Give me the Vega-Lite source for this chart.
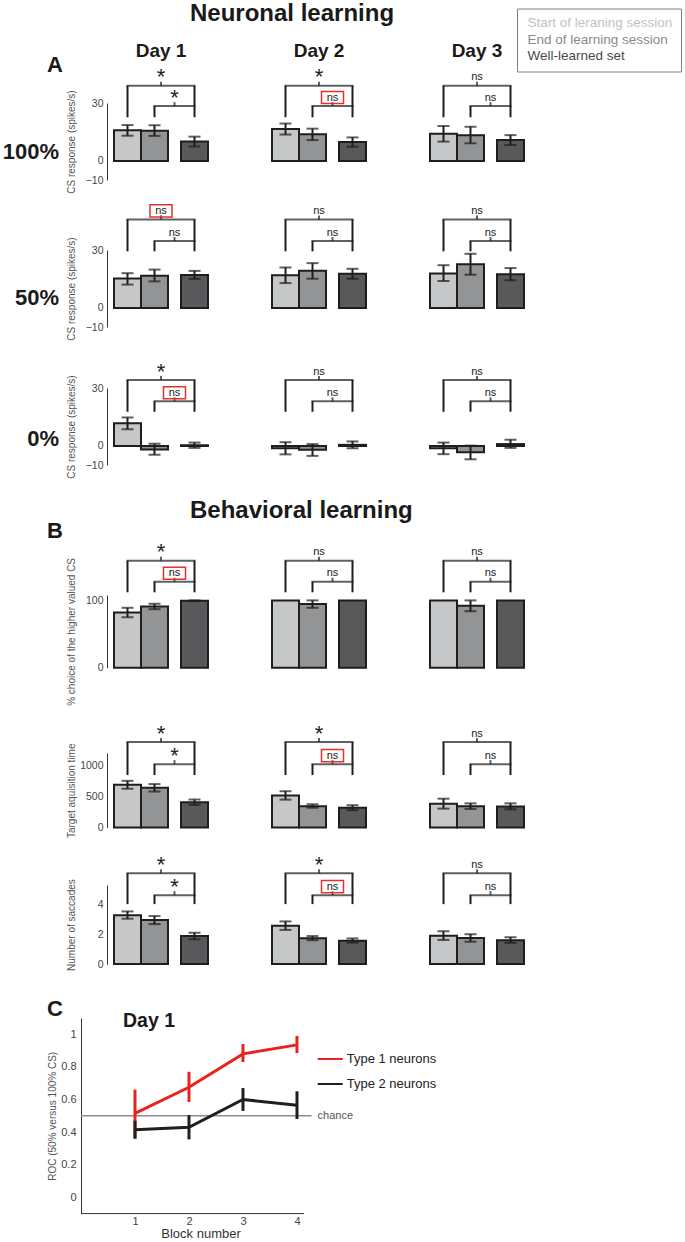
{
  "$schema": "https://vega.github.io/schema/vega-lite/v6.json",
  "autosize": {"type": "none"},
  "padding": {"left": 107, "top": 101, "right": 578, "bottom": 1141},
  "background": "white",
  "spacing": 0,
  "bounds": "flush",
  "resolve": {"scale": {"color": "independent"}, "legend": {"color": "independent"}},
  "datasets": {
    "bars": [
      {"panel":"100%","day":"Day 1","cond":"Start of leraning session","mean":16.2,"lo":13.3,"hi":18.9},
      {"panel":"100%","day":"Day 1","cond":"End of learning session","mean":15.9,"lo":13.2,"hi":18.8},
      {"panel":"100%","day":"Day 1","cond":"Well-learned set","mean":10.3,"lo":7.6,"hi":12.8},
      {"panel":"100%","day":"Day 2","cond":"Start of leraning session","mean":16.8,"lo":13.9,"hi":19.7},
      {"panel":"100%","day":"Day 2","cond":"End of learning session","mean":14.0,"lo":11.0,"hi":17.0},
      {"panel":"100%","day":"Day 2","cond":"Well-learned set","mean":10.0,"lo":7.5,"hi":12.4},
      {"panel":"100%","day":"Day 3","cond":"Start of leraning session","mean":14.3,"lo":10.2,"hi":18.4},
      {"panel":"100%","day":"Day 3","cond":"End of learning session","mean":13.6,"lo":9.3,"hi":18.0},
      {"panel":"100%","day":"Day 3","cond":"Well-learned set","mean":11.0,"lo":8.4,"hi":13.6},
      {"panel":"50%","day":"Day 1","cond":"Start of leraning session","mean":15.5,"lo":12.3,"hi":18.3},
      {"panel":"50%","day":"Day 1","cond":"End of learning session","mean":17.0,"lo":14.0,"hi":20.2},
      {"panel":"50%","day":"Day 1","cond":"Well-learned set","mean":17.3,"lo":15.3,"hi":19.5},
      {"panel":"50%","day":"Day 2","cond":"Start of leraning session","mean":17.2,"lo":13.1,"hi":21.3},
      {"panel":"50%","day":"Day 2","cond":"End of learning session","mean":19.6,"lo":15.4,"hi":23.6},
      {"panel":"50%","day":"Day 2","cond":"Well-learned set","mean":18.0,"lo":15.4,"hi":20.6},
      {"panel":"50%","day":"Day 3","cond":"Start of leraning session","mean":18.2,"lo":14.2,"hi":22.5},
      {"panel":"50%","day":"Day 3","cond":"End of learning session","mean":23.0,"lo":17.5,"hi":28.5},
      {"panel":"50%","day":"Day 3","cond":"Well-learned set","mean":17.8,"lo":14.6,"hi":21.0},
      {"panel":"0%","day":"Day 1","cond":"Start of leraning session","mean":12.0,"lo":8.8,"hi":15.0},
      {"panel":"0%","day":"Day 1","cond":"End of learning session","mean":-1.8,"lo":-4.6,"hi":1.2},
      {"panel":"0%","day":"Day 1","cond":"Well-learned set","mean":0.4,"lo":-1.0,"hi":1.8},
      {"panel":"0%","day":"Day 2","cond":"Start of leraning session","mean":-1.2,"lo":-4.4,"hi":2.0},
      {"panel":"0%","day":"Day 2","cond":"End of learning session","mean":-2.0,"lo":-5.2,"hi":1.0},
      {"panel":"0%","day":"Day 2","cond":"Well-learned set","mean":0.6,"lo":-1.2,"hi":2.4},
      {"panel":"0%","day":"Day 3","cond":"Start of leraning session","mean":-1.2,"lo":-4.3,"hi":1.8},
      {"panel":"0%","day":"Day 3","cond":"End of learning session","mean":-3.3,"lo":-7.0,"hi":0.2},
      {"panel":"0%","day":"Day 3","cond":"Well-learned set","mean":1.0,"lo":-1.0,"hi":3.3},
      {"panel":"choice","day":"Day 1","cond":"Start of leraning session","mean":82,"lo":75,"hi":89},
      {"panel":"choice","day":"Day 1","cond":"End of learning session","mean":91,"lo":87,"hi":95},
      {"panel":"choice","day":"Day 1","cond":"Well-learned set","mean":99.5,"lo":99,"hi":100},
      {"panel":"choice","day":"Day 2","cond":"Start of leraning session","mean":100,"lo":null,"hi":null},
      {"panel":"choice","day":"Day 2","cond":"End of learning session","mean":94.5,"lo":89,"hi":100},
      {"panel":"choice","day":"Day 2","cond":"Well-learned set","mean":100,"lo":null,"hi":null},
      {"panel":"choice","day":"Day 3","cond":"Start of leraning session","mean":100,"lo":null,"hi":null},
      {"panel":"choice","day":"Day 3","cond":"End of learning session","mean":92,"lo":84,"hi":100},
      {"panel":"choice","day":"Day 3","cond":"Well-learned set","mean":100,"lo":null,"hi":null},
      {"panel":"time","day":"Day 1","cond":"Start of leraning session","mean":690,"lo":625,"hi":752},
      {"panel":"time","day":"Day 1","cond":"End of learning session","mean":640,"lo":580,"hi":700},
      {"panel":"time","day":"Day 1","cond":"Well-learned set","mean":408,"lo":365,"hi":452},
      {"panel":"time","day":"Day 2","cond":"Start of leraning session","mean":515,"lo":450,"hi":585},
      {"panel":"time","day":"Day 2","cond":"End of learning session","mean":345,"lo":320,"hi":375},
      {"panel":"time","day":"Day 2","cond":"Well-learned set","mean":320,"lo":280,"hi":360},
      {"panel":"time","day":"Day 3","cond":"Start of leraning session","mean":385,"lo":305,"hi":465},
      {"panel":"time","day":"Day 3","cond":"End of learning session","mean":345,"lo":300,"hi":390},
      {"panel":"time","day":"Day 3","cond":"Well-learned set","mean":340,"lo":295,"hi":390},
      {"panel":"saccades","day":"Day 1","cond":"Start of leraning session","mean":3.27,"lo":3.04,"hi":3.53},
      {"panel":"saccades","day":"Day 1","cond":"End of learning session","mean":2.95,"lo":2.68,"hi":3.22},
      {"panel":"saccades","day":"Day 1","cond":"Well-learned set","mean":1.88,"lo":1.66,"hi":2.1},
      {"panel":"saccades","day":"Day 2","cond":"Start of leraning session","mean":2.57,"lo":2.29,"hi":2.86},
      {"panel":"saccades","day":"Day 2","cond":"End of learning session","mean":1.73,"lo":1.6,"hi":1.88},
      {"panel":"saccades","day":"Day 2","cond":"Well-learned set","mean":1.57,"lo":1.44,"hi":1.72},
      {"panel":"saccades","day":"Day 3","cond":"Start of leraning session","mean":1.9,"lo":1.62,"hi":2.2},
      {"panel":"saccades","day":"Day 3","cond":"End of learning session","mean":1.75,"lo":1.5,"hi":2.0},
      {"panel":"saccades","day":"Day 3","cond":"Well-learned set","mean":1.6,"lo":1.42,"hi":1.8}
    ],
    "cmps": [
      {"panel":"100%","day":"Day 1","pair":"Start vs Well","label":"*","boxed":false},
      {"panel":"100%","day":"Day 1","pair":"End vs Well","label":"*","boxed":false},
      {"panel":"100%","day":"Day 2","pair":"Start vs Well","label":"*","boxed":false},
      {"panel":"100%","day":"Day 2","pair":"End vs Well","label":"ns","boxed":true},
      {"panel":"100%","day":"Day 3","pair":"Start vs Well","label":"ns","boxed":false},
      {"panel":"100%","day":"Day 3","pair":"End vs Well","label":"ns","boxed":false},
      {"panel":"50%","day":"Day 1","pair":"Start vs Well","label":"ns","boxed":true},
      {"panel":"50%","day":"Day 1","pair":"End vs Well","label":"ns","boxed":false},
      {"panel":"50%","day":"Day 2","pair":"Start vs Well","label":"ns","boxed":false},
      {"panel":"50%","day":"Day 2","pair":"End vs Well","label":"ns","boxed":false},
      {"panel":"50%","day":"Day 3","pair":"Start vs Well","label":"ns","boxed":false},
      {"panel":"50%","day":"Day 3","pair":"End vs Well","label":"ns","boxed":false},
      {"panel":"0%","day":"Day 1","pair":"Start vs Well","label":"*","boxed":false},
      {"panel":"0%","day":"Day 1","pair":"End vs Well","label":"ns","boxed":true},
      {"panel":"0%","day":"Day 2","pair":"Start vs Well","label":"ns","boxed":false},
      {"panel":"0%","day":"Day 2","pair":"End vs Well","label":"ns","boxed":false},
      {"panel":"0%","day":"Day 3","pair":"Start vs Well","label":"ns","boxed":false},
      {"panel":"0%","day":"Day 3","pair":"End vs Well","label":"ns","boxed":false},
      {"panel":"choice","day":"Day 1","pair":"Start vs Well","label":"*","boxed":false},
      {"panel":"choice","day":"Day 1","pair":"End vs Well","label":"ns","boxed":true},
      {"panel":"choice","day":"Day 2","pair":"Start vs Well","label":"ns","boxed":false},
      {"panel":"choice","day":"Day 2","pair":"End vs Well","label":"ns","boxed":false},
      {"panel":"choice","day":"Day 3","pair":"Start vs Well","label":"ns","boxed":false},
      {"panel":"choice","day":"Day 3","pair":"End vs Well","label":"ns","boxed":false},
      {"panel":"time","day":"Day 1","pair":"Start vs Well","label":"*","boxed":false},
      {"panel":"time","day":"Day 1","pair":"End vs Well","label":"*","boxed":false},
      {"panel":"time","day":"Day 2","pair":"Start vs Well","label":"*","boxed":false},
      {"panel":"time","day":"Day 2","pair":"End vs Well","label":"ns","boxed":true},
      {"panel":"time","day":"Day 3","pair":"Start vs Well","label":"ns","boxed":false},
      {"panel":"time","day":"Day 3","pair":"End vs Well","label":"ns","boxed":false},
      {"panel":"saccades","day":"Day 1","pair":"Start vs Well","label":"*","boxed":false},
      {"panel":"saccades","day":"Day 1","pair":"End vs Well","label":"*","boxed":false},
      {"panel":"saccades","day":"Day 2","pair":"Start vs Well","label":"*","boxed":false},
      {"panel":"saccades","day":"Day 2","pair":"End vs Well","label":"ns","boxed":true},
      {"panel":"saccades","day":"Day 3","pair":"Start vs Well","label":"ns","boxed":false},
      {"panel":"saccades","day":"Day 3","pair":"End vs Well","label":"ns","boxed":false}
    ],
    "roc": [
      {"type":"Type 1 neurons","block":1,"roc":0.515,"lo":0.36,"hi":0.66},
      {"type":"Type 1 neurons","block":2,"roc":0.675,"lo":0.585,"hi":0.77},
      {"type":"Type 1 neurons","block":3,"roc":0.88,"lo":0.83,"hi":0.94},
      {"type":"Type 1 neurons","block":4,"roc":0.935,"lo":0.885,"hi":0.99},
      {"type":"Type 2 neurons","block":1,"roc":0.415,"lo":0.36,"hi":0.47},
      {"type":"Type 2 neurons","block":2,"roc":0.43,"lo":0.355,"hi":0.505},
      {"type":"Type 2 neurons","block":3,"roc":0.6,"lo":0.53,"hi":0.67},
      {"type":"Type 2 neurons","block":4,"roc":0.565,"lo":0.48,"hi":0.65}
    ],
    "ref": [{"label":"chance","roc":0.5}]
  },
  "vconcat": [
    {"width":424,"height":1,"data":{"values":[]},"mark":"point",
     "title":{"text":"Neuronal learning","anchor":"start","frame":"group","dx":83,"offset":56,"baseline":"alphabetic","fontSize":24}},
    {"width":424,"height":1,"data":{"values":[]},"mark":"point",
     "title":{"text":"A","orient":"left","angle":0,"align":"left","baseline":"middle","anchor":"middle","frame":"group","offset":44,"dy":-38,"fontSize":22}},
    {"width":424,"height":77,
     "title":{"text":"100%","orient":"left","angle":0,"align":"left","baseline":"middle","anchor":"middle","frame":"group","offset":7,"dy":10,"fontSize":22},
     "encoding":{"x":{"field":"day","type":"nominal","scale":{"domain":["Day 1","Day 2","Day 3"],"paddingInner":0.405,"paddingOuter":0.0443},"axis":{"orient":"top","domain":false,"ticks":false,"tickSize":0,"labelAngle":0,"labelFontSize":19,"labelFontWeight":"bold","labelColor":"#1a1a1a","labelPadding":47,"labelBaseline":"alphabetic","title":null}}},
     "layer":[
      {"data":{"name":"bars"},"transform":[{"filter":"datum.panel=='100%' && datum.cond=='Start of leraning session'"}],"mark":{"type":"bar","width":27,"xOffset":-33.5},
       "encoding":{"y":{"field":"mean","type":"quantitative","scale":{"domain":[-10,30.5],"nice":false,"zero":false},"axis":{"values":[-10,0,30],"tickCount":20,"labelOverlap":false,"title":"CS response (spikes/s)","titleX":-36,"titleBaseline":"middle"}},
        "y2":{"datum":0},
        "color":{"field":"cond","type":"nominal","scale":{"domain":["Start of leraning session","End of learning session","Well-learned set"],"range":["#c6c7c9","#939496","#58595b"]},
         "legend":{"orient":"none","legendX":410,"legendY":-94.5,"title":null,"padding":8,"strokeColor":"#808080","fillColor":"#ffffff","symbolSize":1,"symbolOpacity":0,"symbolStrokeWidth":0,"labelOffset":-11,"labelFontSize":13.5,"labelLimit":300,"rowPadding":1.5,
          "labelColor":{"expr":"datum.value == 'Start of leraning session' ? '#c2c2c2' : datum.value == 'End of learning session' ? '#8a8a8a' : '#4a4a4a'"}}}}},
      {"data":{"name":"bars"},"transform":[{"filter":"datum.panel=='100%' && datum.cond=='End of learning session'"}],"mark":{"type":"bar","width":27,"xOffset":-6.5},
       "encoding":{"y":{"field":"mean","type":"quantitative"},"y2":{"datum":0},"color":{"field":"cond","type":"nominal","scale":{"domain":["Start of leraning session","End of learning session","Well-learned set"],"range":["#c6c7c9","#939496","#58595b"]}}}},
      {"data":{"name":"bars"},"transform":[{"filter":"datum.panel=='100%' && datum.cond=='Well-learned set'"}],"mark":{"type":"bar","width":27,"xOffset":33.5},
       "encoding":{"y":{"field":"mean","type":"quantitative"},"y2":{"datum":0},"color":{"field":"cond","type":"nominal","scale":{"domain":["Start of leraning session","End of learning session","Well-learned set"],"range":["#c6c7c9","#939496","#58595b"]}}}},
      {"data":{"name":"bars"},"transform":[{"filter":"datum.panel=='100%' && datum.cond=='Start of leraning session'"}],"mark":{"type":"rule","xOffset":-33.5},"encoding":{"y":{"field":"lo","type":"quantitative"},"y2":{"field":"hi"}}},
      {"data":{"name":"bars"},"transform":[{"filter":"datum.panel=='100%' && datum.cond=='End of learning session'"}],"mark":{"type":"rule","xOffset":-6.5},"encoding":{"y":{"field":"lo","type":"quantitative"},"y2":{"field":"hi"}}},
      {"data":{"name":"bars"},"transform":[{"filter":"datum.panel=='100%' && datum.cond=='Well-learned set'"}],"mark":{"type":"rule","xOffset":33.5},"encoding":{"y":{"field":"lo","type":"quantitative"},"y2":{"field":"hi"}}},
      {"data":{"name":"bars"},"transform":[{"filter":"datum.panel=='100%' && datum.cond=='Start of leraning session'"},{"fold":["lo","hi"],"as":["end","v"]}],"mark":{"type":"tick","orient":"horizontal","size":12,"xOffset":-33.5},"encoding":{"y":{"field":"v","type":"quantitative"}}},
      {"data":{"name":"bars"},"transform":[{"filter":"datum.panel=='100%' && datum.cond=='End of learning session'"},{"fold":["lo","hi"],"as":["end","v"]}],"mark":{"type":"tick","orient":"horizontal","size":12,"xOffset":-6.5},"encoding":{"y":{"field":"v","type":"quantitative"}}},
      {"data":{"name":"bars"},"transform":[{"filter":"datum.panel=='100%' && datum.cond=='Well-learned set'"},{"fold":["lo","hi"],"as":["end","v"]}],"mark":{"type":"tick","orient":"horizontal","size":12,"xOffset":33.5},"encoding":{"y":{"field":"v","type":"quantitative"}}},
      {"data":{"name":"cmps"},"transform":[{"filter":"datum.panel=='100%' && datum.pair=='Start vs Well'"}],"mark":{"type":"tick","orient":"horizontal","size":69},"encoding":{"y":{"datum":39.6,"type":"quantitative"}}},
      {"data":{"name":"cmps"},"transform":[{"filter":"datum.panel=='100%' && datum.pair=='End vs Well'"}],"mark":{"type":"tick","orient":"horizontal","size":42,"xOffset":13.5},"encoding":{"y":{"datum":28.9,"type":"quantitative"}}},
      {"data":{"name":"cmps"},"transform":[{"filter":"datum.panel=='100%' && datum.pair=='Start vs Well'"}],"mark":{"type":"rule","xOffset":-33.5},"encoding":{"y":{"datum":39.6,"type":"quantitative"},"y2":{"datum":23}}},
      {"data":{"name":"cmps"},"transform":[{"filter":"datum.panel=='100%' && datum.pair=='Start vs Well'"}],"mark":{"type":"rule","xOffset":33.5},"encoding":{"y":{"datum":39.6,"type":"quantitative"},"y2":{"datum":23}}},
      {"data":{"name":"cmps"},"transform":[{"filter":"datum.panel=='100%' && datum.pair=='End vs Well'"}],"mark":{"type":"rule","xOffset":-6.5},"encoding":{"y":{"datum":28.9,"type":"quantitative"},"y2":{"datum":23}}},
      {"data":{"name":"cmps"},"transform":[{"filter":"datum.panel=='100%' && datum.pair=='Start vs Well'"}],"mark":{"type":"tick","orient":"vertical","size":4,"yOffset":-2},"encoding":{"y":{"datum":39.6,"type":"quantitative"}}},
      {"data":{"name":"cmps"},"transform":[{"filter":"datum.panel=='100%' && datum.pair=='End vs Well'"}],"mark":{"type":"tick","orient":"vertical","size":4,"yOffset":-2,"xOffset":13.5},"encoding":{"y":{"datum":28.9,"type":"quantitative"}}},
      {"data":{"name":"cmps"},"transform":[{"filter":"datum.panel=='100%' && datum.pair=='Start vs Well'"}],"mark":{"type":"text","baseline":"middle","dy":-8.5},"encoding":{"y":{"datum":39.6,"type":"quantitative"},"text":{"field":"label"},"size":{"field":"label","type":"ordinal","scale":{"domain":["*","ns"],"range":[22,11]},"legend":null}}},
      {"data":{"name":"cmps"},"transform":[{"filter":"datum.panel=='100%' && datum.pair=='End vs Well'"}],"mark":{"type":"text","baseline":"middle","dy":-8.5,"xOffset":13.5},"encoding":{"y":{"datum":28.9,"type":"quantitative"},"text":{"field":"label"},"size":{"field":"label","type":"ordinal","scale":{"domain":["*","ns"],"range":[22,11]},"legend":null}}},
      {"data":{"name":"cmps"},"transform":[{"filter":"datum.panel=='100%' && datum.pair=='Start vs Well' && datum.boxed"}],"mark":{"type":"point","shape":"M-1,-0.55H1V0.55H-1Z","size":484,"filled":false,"stroke":"#e3312b","strokeWidth":1.5,"opacity":1,"yOffset":-8.5},"encoding":{"y":{"datum":39.6,"type":"quantitative"}}},
      {"data":{"name":"cmps"},"transform":[{"filter":"datum.panel=='100%' && datum.pair=='End vs Well' && datum.boxed"}],"mark":{"type":"point","shape":"M-1,-0.55H1V0.55H-1Z","size":484,"filled":false,"stroke":"#e3312b","strokeWidth":1.5,"opacity":1,"yOffset":-8.5,"xOffset":13.5},"encoding":{"y":{"datum":28.9,"type":"quantitative"}}}
     ]},
    {"width":424,"height":69.7,"data":{"values":[]},"mark":"point"},
    {"width":424,"height":77,
     "title":{"text":"50%","orient":"left","angle":0,"align":"left","baseline":"middle","anchor":"middle","frame":"group","offset":7,"dy":9,"fontSize":22},
     "encoding":{"x":{"field":"day","type":"nominal","scale":{"domain":["Day 1","Day 2","Day 3"],"paddingInner":0.405,"paddingOuter":0.0443},"axis":null}},
     "layer":[
      {"data":{"name":"bars"},"transform":[{"filter":"datum.panel=='50%' && datum.cond=='Start of leraning session'"}],"mark":{"type":"bar","width":27,"xOffset":-33.5},
       "encoding":{"y":{"field":"mean","type":"quantitative","scale":{"domain":[-10,30.5],"nice":false,"zero":false},"axis":{"values":[-10,0,30],"tickCount":20,"labelOverlap":false,"title":"CS response (spikes/s)","titleX":-36,"titleBaseline":"middle"}},
        "y2":{"datum":0},
        "color":{"field":"cond","type":"nominal","scale":{"domain":["Start of leraning session","End of learning session","Well-learned set"],"range":["#c6c7c9","#939496","#58595b"]},"legend":null}}},
      {"data":{"name":"bars"},"transform":[{"filter":"datum.panel=='50%' && datum.cond=='End of learning session'"}],"mark":{"type":"bar","width":27,"xOffset":-6.5},
       "encoding":{"y":{"field":"mean","type":"quantitative"},"y2":{"datum":0},"color":{"field":"cond","type":"nominal","scale":{"domain":["Start of leraning session","End of learning session","Well-learned set"],"range":["#c6c7c9","#939496","#58595b"]},"legend":null}}},
      {"data":{"name":"bars"},"transform":[{"filter":"datum.panel=='50%' && datum.cond=='Well-learned set'"}],"mark":{"type":"bar","width":27,"xOffset":33.5},
       "encoding":{"y":{"field":"mean","type":"quantitative"},"y2":{"datum":0},"color":{"field":"cond","type":"nominal","scale":{"domain":["Start of leraning session","End of learning session","Well-learned set"],"range":["#c6c7c9","#939496","#58595b"]},"legend":null}}},
      {"data":{"name":"bars"},"transform":[{"filter":"datum.panel=='50%' && datum.cond=='Start of leraning session'"}],"mark":{"type":"rule","xOffset":-33.5},"encoding":{"y":{"field":"lo","type":"quantitative"},"y2":{"field":"hi"}}},
      {"data":{"name":"bars"},"transform":[{"filter":"datum.panel=='50%' && datum.cond=='End of learning session'"}],"mark":{"type":"rule","xOffset":-6.5},"encoding":{"y":{"field":"lo","type":"quantitative"},"y2":{"field":"hi"}}},
      {"data":{"name":"bars"},"transform":[{"filter":"datum.panel=='50%' && datum.cond=='Well-learned set'"}],"mark":{"type":"rule","xOffset":33.5},"encoding":{"y":{"field":"lo","type":"quantitative"},"y2":{"field":"hi"}}},
      {"data":{"name":"bars"},"transform":[{"filter":"datum.panel=='50%' && datum.cond=='Start of leraning session'"},{"fold":["lo","hi"],"as":["end","v"]}],"mark":{"type":"tick","orient":"horizontal","size":12,"xOffset":-33.5},"encoding":{"y":{"field":"v","type":"quantitative"}}},
      {"data":{"name":"bars"},"transform":[{"filter":"datum.panel=='50%' && datum.cond=='End of learning session'"},{"fold":["lo","hi"],"as":["end","v"]}],"mark":{"type":"tick","orient":"horizontal","size":12,"xOffset":-6.5},"encoding":{"y":{"field":"v","type":"quantitative"}}},
      {"data":{"name":"bars"},"transform":[{"filter":"datum.panel=='50%' && datum.cond=='Well-learned set'"},{"fold":["lo","hi"],"as":["end","v"]}],"mark":{"type":"tick","orient":"horizontal","size":12,"xOffset":33.5},"encoding":{"y":{"field":"v","type":"quantitative"}}},
      {"data":{"name":"cmps"},"transform":[{"filter":"datum.panel=='50%' && datum.pair=='Start vs Well'"}],"mark":{"type":"tick","orient":"horizontal","size":69},"encoding":{"y":{"datum":46.6,"type":"quantitative"}}},
      {"data":{"name":"cmps"},"transform":[{"filter":"datum.panel=='50%' && datum.pair=='End vs Well'"}],"mark":{"type":"tick","orient":"horizontal","size":42,"xOffset":13.5},"encoding":{"y":{"datum":35.2,"type":"quantitative"}}},
      {"data":{"name":"cmps"},"transform":[{"filter":"datum.panel=='50%' && datum.pair=='Start vs Well'"}],"mark":{"type":"rule","xOffset":-33.5},"encoding":{"y":{"datum":46.6,"type":"quantitative"},"y2":{"datum":29.8}}},
      {"data":{"name":"cmps"},"transform":[{"filter":"datum.panel=='50%' && datum.pair=='Start vs Well'"}],"mark":{"type":"rule","xOffset":33.5},"encoding":{"y":{"datum":46.6,"type":"quantitative"},"y2":{"datum":29.8}}},
      {"data":{"name":"cmps"},"transform":[{"filter":"datum.panel=='50%' && datum.pair=='End vs Well'"}],"mark":{"type":"rule","xOffset":-6.5},"encoding":{"y":{"datum":35.2,"type":"quantitative"},"y2":{"datum":29.8}}},
      {"data":{"name":"cmps"},"transform":[{"filter":"datum.panel=='50%' && datum.pair=='Start vs Well'"}],"mark":{"type":"tick","orient":"vertical","size":4,"yOffset":-2},"encoding":{"y":{"datum":46.6,"type":"quantitative"}}},
      {"data":{"name":"cmps"},"transform":[{"filter":"datum.panel=='50%' && datum.pair=='End vs Well'"}],"mark":{"type":"tick","orient":"vertical","size":4,"yOffset":-2,"xOffset":13.5},"encoding":{"y":{"datum":35.2,"type":"quantitative"}}},
      {"data":{"name":"cmps"},"transform":[{"filter":"datum.panel=='50%' && datum.pair=='Start vs Well'"}],"mark":{"type":"text","baseline":"middle","dy":-8.5},"encoding":{"y":{"datum":46.6,"type":"quantitative"},"text":{"field":"label"},"size":{"field":"label","type":"ordinal","scale":{"domain":["*","ns"],"range":[22,11]},"legend":null}}},
      {"data":{"name":"cmps"},"transform":[{"filter":"datum.panel=='50%' && datum.pair=='End vs Well'"}],"mark":{"type":"text","baseline":"middle","dy":-8.5,"xOffset":13.5},"encoding":{"y":{"datum":35.2,"type":"quantitative"},"text":{"field":"label"},"size":{"field":"label","type":"ordinal","scale":{"domain":["*","ns"],"range":[22,11]},"legend":null}}},
      {"data":{"name":"cmps"},"transform":[{"filter":"datum.panel=='50%' && datum.pair=='Start vs Well' && datum.boxed"}],"mark":{"type":"point","shape":"M-1,-0.55H1V0.55H-1Z","size":484,"filled":false,"stroke":"#e3312b","strokeWidth":1.5,"opacity":1,"yOffset":-8.5},"encoding":{"y":{"datum":46.6,"type":"quantitative"}}},
      {"data":{"name":"cmps"},"transform":[{"filter":"datum.panel=='50%' && datum.pair=='End vs Well' && datum.boxed"}],"mark":{"type":"point","shape":"M-1,-0.55H1V0.55H-1Z","size":484,"filled":false,"stroke":"#e3312b","strokeWidth":1.5,"opacity":1,"yOffset":-8.5,"xOffset":13.5},"encoding":{"y":{"datum":35.2,"type":"quantitative"}}}
     ]},
    {"width":424,"height":60.6,"data":{"values":[]},"mark":"point"},
    {"width":424,"height":77,
     "title":{"text":"0%","orient":"left","angle":0,"align":"left","baseline":"middle","anchor":"middle","frame":"group","offset":7,"dy":12,"fontSize":22},
     "encoding":{"x":{"field":"day","type":"nominal","scale":{"domain":["Day 1","Day 2","Day 3"],"paddingInner":0.405,"paddingOuter":0.0443},"axis":null}},
     "layer":[
      {"data":{"name":"bars"},"transform":[{"filter":"datum.panel=='0%' && datum.cond=='Start of leraning session'"}],"mark":{"type":"bar","width":27,"xOffset":-33.5},
       "encoding":{"y":{"field":"mean","type":"quantitative","scale":{"domain":[-10,30.5],"nice":false,"zero":false},"axis":{"values":[-10,0,30],"tickCount":20,"labelOverlap":false,"title":"CS response (spikes/s)","titleX":-36,"titleBaseline":"middle"}},
        "y2":{"datum":0},
        "color":{"field":"cond","type":"nominal","scale":{"domain":["Start of leraning session","End of learning session","Well-learned set"],"range":["#c6c7c9","#939496","#58595b"]},"legend":null}}},
      {"data":{"name":"bars"},"transform":[{"filter":"datum.panel=='0%' && datum.cond=='End of learning session'"}],"mark":{"type":"bar","width":27,"xOffset":-6.5},
       "encoding":{"y":{"field":"mean","type":"quantitative"},"y2":{"datum":0},"color":{"field":"cond","type":"nominal","scale":{"domain":["Start of leraning session","End of learning session","Well-learned set"],"range":["#c6c7c9","#939496","#58595b"]},"legend":null}}},
      {"data":{"name":"bars"},"transform":[{"filter":"datum.panel=='0%' && datum.cond=='Well-learned set'"}],"mark":{"type":"bar","width":27,"xOffset":33.5},
       "encoding":{"y":{"field":"mean","type":"quantitative"},"y2":{"datum":0},"color":{"field":"cond","type":"nominal","scale":{"domain":["Start of leraning session","End of learning session","Well-learned set"],"range":["#c6c7c9","#939496","#58595b"]},"legend":null}}},
      {"data":{"name":"bars"},"transform":[{"filter":"datum.panel=='0%' && datum.cond=='Start of leraning session'"}],"mark":{"type":"rule","xOffset":-33.5},"encoding":{"y":{"field":"lo","type":"quantitative"},"y2":{"field":"hi"}}},
      {"data":{"name":"bars"},"transform":[{"filter":"datum.panel=='0%' && datum.cond=='End of learning session'"}],"mark":{"type":"rule","xOffset":-6.5},"encoding":{"y":{"field":"lo","type":"quantitative"},"y2":{"field":"hi"}}},
      {"data":{"name":"bars"},"transform":[{"filter":"datum.panel=='0%' && datum.cond=='Well-learned set'"}],"mark":{"type":"rule","xOffset":33.5},"encoding":{"y":{"field":"lo","type":"quantitative"},"y2":{"field":"hi"}}},
      {"data":{"name":"bars"},"transform":[{"filter":"datum.panel=='0%' && datum.cond=='Start of leraning session'"},{"fold":["lo","hi"],"as":["end","v"]}],"mark":{"type":"tick","orient":"horizontal","size":12,"xOffset":-33.5},"encoding":{"y":{"field":"v","type":"quantitative"}}},
      {"data":{"name":"bars"},"transform":[{"filter":"datum.panel=='0%' && datum.cond=='End of learning session'"},{"fold":["lo","hi"],"as":["end","v"]}],"mark":{"type":"tick","orient":"horizontal","size":12,"xOffset":-6.5},"encoding":{"y":{"field":"v","type":"quantitative"}}},
      {"data":{"name":"bars"},"transform":[{"filter":"datum.panel=='0%' && datum.cond=='Well-learned set'"},{"fold":["lo","hi"],"as":["end","v"]}],"mark":{"type":"tick","orient":"horizontal","size":12,"xOffset":33.5},"encoding":{"y":{"field":"v","type":"quantitative"}}},
      {"data":{"name":"cmps"},"transform":[{"filter":"datum.panel=='0%' && datum.pair=='Start vs Well'"}],"mark":{"type":"tick","orient":"horizontal","size":69},"encoding":{"y":{"datum":34.7,"type":"quantitative"}}},
      {"data":{"name":"cmps"},"transform":[{"filter":"datum.panel=='0%' && datum.pair=='End vs Well'"}],"mark":{"type":"tick","orient":"horizontal","size":42,"xOffset":13.5},"encoding":{"y":{"datum":23.5,"type":"quantitative"}}},
      {"data":{"name":"cmps"},"transform":[{"filter":"datum.panel=='0%' && datum.pair=='Start vs Well'"}],"mark":{"type":"rule","xOffset":-33.5},"encoding":{"y":{"datum":34.7,"type":"quantitative"},"y2":{"datum":18}}},
      {"data":{"name":"cmps"},"transform":[{"filter":"datum.panel=='0%' && datum.pair=='Start vs Well'"}],"mark":{"type":"rule","xOffset":33.5},"encoding":{"y":{"datum":34.7,"type":"quantitative"},"y2":{"datum":18}}},
      {"data":{"name":"cmps"},"transform":[{"filter":"datum.panel=='0%' && datum.pair=='End vs Well'"}],"mark":{"type":"rule","xOffset":-6.5},"encoding":{"y":{"datum":23.5,"type":"quantitative"},"y2":{"datum":18}}},
      {"data":{"name":"cmps"},"transform":[{"filter":"datum.panel=='0%' && datum.pair=='Start vs Well'"}],"mark":{"type":"tick","orient":"vertical","size":4,"yOffset":-2},"encoding":{"y":{"datum":34.7,"type":"quantitative"}}},
      {"data":{"name":"cmps"},"transform":[{"filter":"datum.panel=='0%' && datum.pair=='End vs Well'"}],"mark":{"type":"tick","orient":"vertical","size":4,"yOffset":-2,"xOffset":13.5},"encoding":{"y":{"datum":23.5,"type":"quantitative"}}},
      {"data":{"name":"cmps"},"transform":[{"filter":"datum.panel=='0%' && datum.pair=='Start vs Well'"}],"mark":{"type":"text","baseline":"middle","dy":-8.5},"encoding":{"y":{"datum":34.7,"type":"quantitative"},"text":{"field":"label"},"size":{"field":"label","type":"ordinal","scale":{"domain":["*","ns"],"range":[22,11]},"legend":null}}},
      {"data":{"name":"cmps"},"transform":[{"filter":"datum.panel=='0%' && datum.pair=='End vs Well'"}],"mark":{"type":"text","baseline":"middle","dy":-8.5,"xOffset":13.5},"encoding":{"y":{"datum":23.5,"type":"quantitative"},"text":{"field":"label"},"size":{"field":"label","type":"ordinal","scale":{"domain":["*","ns"],"range":[22,11]},"legend":null}}},
      {"data":{"name":"cmps"},"transform":[{"filter":"datum.panel=='0%' && datum.pair=='Start vs Well' && datum.boxed"}],"mark":{"type":"point","shape":"M-1,-0.55H1V0.55H-1Z","size":484,"filled":false,"stroke":"#e3312b","strokeWidth":1.5,"opacity":1,"yOffset":-8.5},"encoding":{"y":{"datum":34.7,"type":"quantitative"}}},
      {"data":{"name":"cmps"},"transform":[{"filter":"datum.panel=='0%' && datum.pair=='End vs Well' && datum.boxed"}],"mark":{"type":"point","shape":"M-1,-0.55H1V0.55H-1Z","size":484,"filled":false,"stroke":"#e3312b","strokeWidth":1.5,"opacity":1,"yOffset":-8.5,"xOffset":13.5},"encoding":{"y":{"datum":23.5,"type":"quantitative"}}}
     ]},
    {"width":424,"height":55.7,"data":{"values":[]},"mark":"point",
     "title":{"text":"B","orient":"left","angle":0,"align":"left","baseline":"middle","anchor":"middle","frame":"group","offset":44,"dy":37.8,"fontSize":22}},
    {"width":424,"height":73.9,"data":{"values":[]},"mark":"point",
     "title":{"text":"Behavioral learning","anchor":"start","frame":"group","dx":83,"offset":-21,"baseline":"alphabetic","fontSize":24}},
    {"width":424,"height":72.8,
     "encoding":{"x":{"field":"day","type":"nominal","scale":{"domain":["Day 1","Day 2","Day 3"],"paddingInner":0.405,"paddingOuter":0.0443},"axis":null}},
     "layer":[
      {"data":{"name":"bars"},"transform":[{"filter":"datum.panel=='choice' && datum.cond=='Start of leraning session'"}],"mark":{"type":"bar","width":27,"xOffset":-33.5},
       "encoding":{"y":{"field":"mean","type":"quantitative","scale":{"domain":[0,108],"nice":false,"zero":false},"axis":{"values":[0,100],"tickCount":20,"labelOverlap":false,"title":"% choice of the higher valued CS","titleX":-36,"titleBaseline":"middle"}},
        "y2":{"datum":0},
        "color":{"field":"cond","type":"nominal","scale":{"domain":["Start of leraning session","End of learning session","Well-learned set"],"range":["#c6c7c9","#939496","#58595b"]},"legend":null}}},
      {"data":{"name":"bars"},"transform":[{"filter":"datum.panel=='choice' && datum.cond=='End of learning session'"}],"mark":{"type":"bar","width":27,"xOffset":-6.5},
       "encoding":{"y":{"field":"mean","type":"quantitative"},"y2":{"datum":0},"color":{"field":"cond","type":"nominal","scale":{"domain":["Start of leraning session","End of learning session","Well-learned set"],"range":["#c6c7c9","#939496","#58595b"]},"legend":null}}},
      {"data":{"name":"bars"},"transform":[{"filter":"datum.panel=='choice' && datum.cond=='Well-learned set'"}],"mark":{"type":"bar","width":27,"xOffset":33.5},
       "encoding":{"y":{"field":"mean","type":"quantitative"},"y2":{"datum":0},"color":{"field":"cond","type":"nominal","scale":{"domain":["Start of leraning session","End of learning session","Well-learned set"],"range":["#c6c7c9","#939496","#58595b"]},"legend":null}}},
      {"data":{"name":"bars"},"transform":[{"filter":"datum.panel=='choice' && datum.cond=='Start of leraning session'"}],"mark":{"type":"rule","xOffset":-33.5},"encoding":{"y":{"field":"lo","type":"quantitative"},"y2":{"field":"hi"}}},
      {"data":{"name":"bars"},"transform":[{"filter":"datum.panel=='choice' && datum.cond=='End of learning session'"}],"mark":{"type":"rule","xOffset":-6.5},"encoding":{"y":{"field":"lo","type":"quantitative"},"y2":{"field":"hi"}}},
      {"data":{"name":"bars"},"transform":[{"filter":"datum.panel=='choice' && datum.cond=='Well-learned set'"}],"mark":{"type":"rule","xOffset":33.5},"encoding":{"y":{"field":"lo","type":"quantitative"},"y2":{"field":"hi"}}},
      {"data":{"name":"bars"},"transform":[{"filter":"datum.panel=='choice' && datum.cond=='Start of leraning session'"},{"fold":["lo","hi"],"as":["end","v"]}],"mark":{"type":"tick","orient":"horizontal","size":12,"xOffset":-33.5},"encoding":{"y":{"field":"v","type":"quantitative"}}},
      {"data":{"name":"bars"},"transform":[{"filter":"datum.panel=='choice' && datum.cond=='End of learning session'"},{"fold":["lo","hi"],"as":["end","v"]}],"mark":{"type":"tick","orient":"horizontal","size":12,"xOffset":-6.5},"encoding":{"y":{"field":"v","type":"quantitative"}}},
      {"data":{"name":"bars"},"transform":[{"filter":"datum.panel=='choice' && datum.cond=='Well-learned set'"},{"fold":["lo","hi"],"as":["end","v"]}],"mark":{"type":"tick","orient":"horizontal","size":12,"xOffset":33.5},"encoding":{"y":{"field":"v","type":"quantitative"}}},
      {"data":{"name":"cmps"},"transform":[{"filter":"datum.panel=='choice' && datum.pair=='Start vs Well'"}],"mark":{"type":"tick","orient":"horizontal","size":69},"encoding":{"y":{"datum":158.9,"type":"quantitative"}}},
      {"data":{"name":"cmps"},"transform":[{"filter":"datum.panel=='choice' && datum.pair=='End vs Well'"}],"mark":{"type":"tick","orient":"horizontal","size":42,"xOffset":13.5},"encoding":{"y":{"datum":127.6,"type":"quantitative"}}},
      {"data":{"name":"cmps"},"transform":[{"filter":"datum.panel=='choice' && datum.pair=='Start vs Well'"}],"mark":{"type":"rule","xOffset":-33.5},"encoding":{"y":{"datum":158.9,"type":"quantitative"},"y2":{"datum":112}}},
      {"data":{"name":"cmps"},"transform":[{"filter":"datum.panel=='choice' && datum.pair=='Start vs Well'"}],"mark":{"type":"rule","xOffset":33.5},"encoding":{"y":{"datum":158.9,"type":"quantitative"},"y2":{"datum":112}}},
      {"data":{"name":"cmps"},"transform":[{"filter":"datum.panel=='choice' && datum.pair=='End vs Well'"}],"mark":{"type":"rule","xOffset":-6.5},"encoding":{"y":{"datum":127.6,"type":"quantitative"},"y2":{"datum":112}}},
      {"data":{"name":"cmps"},"transform":[{"filter":"datum.panel=='choice' && datum.pair=='Start vs Well'"}],"mark":{"type":"tick","orient":"vertical","size":4,"yOffset":-2},"encoding":{"y":{"datum":158.9,"type":"quantitative"}}},
      {"data":{"name":"cmps"},"transform":[{"filter":"datum.panel=='choice' && datum.pair=='End vs Well'"}],"mark":{"type":"tick","orient":"vertical","size":4,"yOffset":-2,"xOffset":13.5},"encoding":{"y":{"datum":127.6,"type":"quantitative"}}},
      {"data":{"name":"cmps"},"transform":[{"filter":"datum.panel=='choice' && datum.pair=='Start vs Well'"}],"mark":{"type":"text","baseline":"middle","dy":-8.5},"encoding":{"y":{"datum":158.9,"type":"quantitative"},"text":{"field":"label"},"size":{"field":"label","type":"ordinal","scale":{"domain":["*","ns"],"range":[22,11]},"legend":null}}},
      {"data":{"name":"cmps"},"transform":[{"filter":"datum.panel=='choice' && datum.pair=='End vs Well'"}],"mark":{"type":"text","baseline":"middle","dy":-8.5,"xOffset":13.5},"encoding":{"y":{"datum":127.6,"type":"quantitative"},"text":{"field":"label"},"size":{"field":"label","type":"ordinal","scale":{"domain":["*","ns"],"range":[22,11]},"legend":null}}},
      {"data":{"name":"cmps"},"transform":[{"filter":"datum.panel=='choice' && datum.pair=='Start vs Well' && datum.boxed"}],"mark":{"type":"point","shape":"M-1,-0.55H1V0.55H-1Z","size":484,"filled":false,"stroke":"#e3312b","strokeWidth":1.5,"opacity":1,"yOffset":-8.5},"encoding":{"y":{"datum":158.9,"type":"quantitative"}}},
      {"data":{"name":"cmps"},"transform":[{"filter":"datum.panel=='choice' && datum.pair=='End vs Well' && datum.boxed"}],"mark":{"type":"point","shape":"M-1,-0.55H1V0.55H-1Z","size":484,"filled":false,"stroke":"#e3312b","strokeWidth":1.5,"opacity":1,"yOffset":-8.5,"xOffset":13.5},"encoding":{"y":{"datum":127.6,"type":"quantitative"}}}
     ]},
    {"width":424,"height":84.2,"data":{"values":[]},"mark":"point"},
    {"width":424,"height":74.6,
     "encoding":{"x":{"field":"day","type":"nominal","scale":{"domain":["Day 1","Day 2","Day 3"],"paddingInner":0.405,"paddingOuter":0.0443},"axis":null}},
     "layer":[
      {"data":{"name":"bars"},"transform":[{"filter":"datum.panel=='time' && datum.cond=='Start of leraning session'"}],"mark":{"type":"bar","width":27,"xOffset":-33.5},
       "encoding":{"y":{"field":"mean","type":"quantitative","scale":{"domain":[0,1200],"nice":false,"zero":false},"axis":{"values":[0,500,1000],"tickCount":20,"format":"d","labelOverlap":false,"title":"Target aquisition time","titleX":-36,"titleBaseline":"middle"}},
        "y2":{"datum":0},
        "color":{"field":"cond","type":"nominal","scale":{"domain":["Start of leraning session","End of learning session","Well-learned set"],"range":["#c6c7c9","#939496","#58595b"]},"legend":null}}},
      {"data":{"name":"bars"},"transform":[{"filter":"datum.panel=='time' && datum.cond=='End of learning session'"}],"mark":{"type":"bar","width":27,"xOffset":-6.5},
       "encoding":{"y":{"field":"mean","type":"quantitative"},"y2":{"datum":0},"color":{"field":"cond","type":"nominal","scale":{"domain":["Start of leraning session","End of learning session","Well-learned set"],"range":["#c6c7c9","#939496","#58595b"]},"legend":null}}},
      {"data":{"name":"bars"},"transform":[{"filter":"datum.panel=='time' && datum.cond=='Well-learned set'"}],"mark":{"type":"bar","width":27,"xOffset":33.5},
       "encoding":{"y":{"field":"mean","type":"quantitative"},"y2":{"datum":0},"color":{"field":"cond","type":"nominal","scale":{"domain":["Start of leraning session","End of learning session","Well-learned set"],"range":["#c6c7c9","#939496","#58595b"]},"legend":null}}},
      {"data":{"name":"bars"},"transform":[{"filter":"datum.panel=='time' && datum.cond=='Start of leraning session'"}],"mark":{"type":"rule","xOffset":-33.5},"encoding":{"y":{"field":"lo","type":"quantitative"},"y2":{"field":"hi"}}},
      {"data":{"name":"bars"},"transform":[{"filter":"datum.panel=='time' && datum.cond=='End of learning session'"}],"mark":{"type":"rule","xOffset":-6.5},"encoding":{"y":{"field":"lo","type":"quantitative"},"y2":{"field":"hi"}}},
      {"data":{"name":"bars"},"transform":[{"filter":"datum.panel=='time' && datum.cond=='Well-learned set'"}],"mark":{"type":"rule","xOffset":33.5},"encoding":{"y":{"field":"lo","type":"quantitative"},"y2":{"field":"hi"}}},
      {"data":{"name":"bars"},"transform":[{"filter":"datum.panel=='time' && datum.cond=='Start of leraning session'"},{"fold":["lo","hi"],"as":["end","v"]}],"mark":{"type":"tick","orient":"horizontal","size":12,"xOffset":-33.5},"encoding":{"y":{"field":"v","type":"quantitative"}}},
      {"data":{"name":"bars"},"transform":[{"filter":"datum.panel=='time' && datum.cond=='End of learning session'"},{"fold":["lo","hi"],"as":["end","v"]}],"mark":{"type":"tick","orient":"horizontal","size":12,"xOffset":-6.5},"encoding":{"y":{"field":"v","type":"quantitative"}}},
      {"data":{"name":"bars"},"transform":[{"filter":"datum.panel=='time' && datum.cond=='Well-learned set'"},{"fold":["lo","hi"],"as":["end","v"]}],"mark":{"type":"tick","orient":"horizontal","size":12,"xOffset":33.5},"encoding":{"y":{"field":"v","type":"quantitative"}}},
      {"data":{"name":"cmps"},"transform":[{"filter":"datum.panel=='time' && datum.pair=='Start vs Well'"}],"mark":{"type":"tick","orient":"horizontal","size":69},"encoding":{"y":{"datum":1375,"type":"quantitative"}}},
      {"data":{"name":"cmps"},"transform":[{"filter":"datum.panel=='time' && datum.pair=='End vs Well'"}],"mark":{"type":"tick","orient":"horizontal","size":42,"xOffset":13.5},"encoding":{"y":{"datum":1021,"type":"quantitative"}}},
      {"data":{"name":"cmps"},"transform":[{"filter":"datum.panel=='time' && datum.pair=='Start vs Well'"}],"mark":{"type":"rule","xOffset":-33.5},"encoding":{"y":{"datum":1375,"type":"quantitative"},"y2":{"datum":845}}},
      {"data":{"name":"cmps"},"transform":[{"filter":"datum.panel=='time' && datum.pair=='Start vs Well'"}],"mark":{"type":"rule","xOffset":33.5},"encoding":{"y":{"datum":1375,"type":"quantitative"},"y2":{"datum":845}}},
      {"data":{"name":"cmps"},"transform":[{"filter":"datum.panel=='time' && datum.pair=='End vs Well'"}],"mark":{"type":"rule","xOffset":-6.5},"encoding":{"y":{"datum":1021,"type":"quantitative"},"y2":{"datum":845}}},
      {"data":{"name":"cmps"},"transform":[{"filter":"datum.panel=='time' && datum.pair=='Start vs Well'"}],"mark":{"type":"tick","orient":"vertical","size":4,"yOffset":-2},"encoding":{"y":{"datum":1375,"type":"quantitative"}}},
      {"data":{"name":"cmps"},"transform":[{"filter":"datum.panel=='time' && datum.pair=='End vs Well'"}],"mark":{"type":"tick","orient":"vertical","size":4,"yOffset":-2,"xOffset":13.5},"encoding":{"y":{"datum":1021,"type":"quantitative"}}},
      {"data":{"name":"cmps"},"transform":[{"filter":"datum.panel=='time' && datum.pair=='Start vs Well'"}],"mark":{"type":"text","baseline":"middle","dy":-8.5},"encoding":{"y":{"datum":1375,"type":"quantitative"},"text":{"field":"label"},"size":{"field":"label","type":"ordinal","scale":{"domain":["*","ns"],"range":[22,11]},"legend":null}}},
      {"data":{"name":"cmps"},"transform":[{"filter":"datum.panel=='time' && datum.pair=='End vs Well'"}],"mark":{"type":"text","baseline":"middle","dy":-8.5,"xOffset":13.5},"encoding":{"y":{"datum":1021,"type":"quantitative"},"text":{"field":"label"},"size":{"field":"label","type":"ordinal","scale":{"domain":["*","ns"],"range":[22,11]},"legend":null}}},
      {"data":{"name":"cmps"},"transform":[{"filter":"datum.panel=='time' && datum.pair=='Start vs Well' && datum.boxed"}],"mark":{"type":"point","shape":"M-1,-0.55H1V0.55H-1Z","size":484,"filled":false,"stroke":"#e3312b","strokeWidth":1.5,"opacity":1,"yOffset":-8.5},"encoding":{"y":{"datum":1375,"type":"quantitative"}}},
      {"data":{"name":"cmps"},"transform":[{"filter":"datum.panel=='time' && datum.pair=='End vs Well' && datum.boxed"}],"mark":{"type":"point","shape":"M-1,-0.55H1V0.55H-1Z","size":484,"filled":false,"stroke":"#e3312b","strokeWidth":1.5,"opacity":1,"yOffset":-8.5,"xOffset":13.5},"encoding":{"y":{"datum":1021,"type":"quantitative"}}}
     ]},
    {"width":424,"height":56.1,"data":{"values":[]},"mark":"point"},
    {"width":424,"height":79.1,
     "encoding":{"x":{"field":"day","type":"nominal","scale":{"domain":["Day 1","Day 2","Day 3"],"paddingInner":0.405,"paddingOuter":0.0443},"axis":null}},
     "layer":[
      {"data":{"name":"bars"},"transform":[{"filter":"datum.panel=='saccades' && datum.cond=='Start of leraning session'"}],"mark":{"type":"bar","width":27,"xOffset":-33.5},
       "encoding":{"y":{"field":"mean","type":"quantitative","scale":{"domain":[0,5.3],"nice":false,"zero":false},"axis":{"values":[0,2,4],"tickCount":20,"format":"d","labelOverlap":false,"title":"Number of saccades","titleX":-36,"titleBaseline":"middle"}},
        "y2":{"datum":0},
        "color":{"field":"cond","type":"nominal","scale":{"domain":["Start of leraning session","End of learning session","Well-learned set"],"range":["#c6c7c9","#939496","#58595b"]},"legend":null}}},
      {"data":{"name":"bars"},"transform":[{"filter":"datum.panel=='saccades' && datum.cond=='End of learning session'"}],"mark":{"type":"bar","width":27,"xOffset":-6.5},
       "encoding":{"y":{"field":"mean","type":"quantitative"},"y2":{"datum":0},"color":{"field":"cond","type":"nominal","scale":{"domain":["Start of leraning session","End of learning session","Well-learned set"],"range":["#c6c7c9","#939496","#58595b"]},"legend":null}}},
      {"data":{"name":"bars"},"transform":[{"filter":"datum.panel=='saccades' && datum.cond=='Well-learned set'"}],"mark":{"type":"bar","width":27,"xOffset":33.5},
       "encoding":{"y":{"field":"mean","type":"quantitative"},"y2":{"datum":0},"color":{"field":"cond","type":"nominal","scale":{"domain":["Start of leraning session","End of learning session","Well-learned set"],"range":["#c6c7c9","#939496","#58595b"]},"legend":null}}},
      {"data":{"name":"bars"},"transform":[{"filter":"datum.panel=='saccades' && datum.cond=='Start of leraning session'"}],"mark":{"type":"rule","xOffset":-33.5},"encoding":{"y":{"field":"lo","type":"quantitative"},"y2":{"field":"hi"}}},
      {"data":{"name":"bars"},"transform":[{"filter":"datum.panel=='saccades' && datum.cond=='End of learning session'"}],"mark":{"type":"rule","xOffset":-6.5},"encoding":{"y":{"field":"lo","type":"quantitative"},"y2":{"field":"hi"}}},
      {"data":{"name":"bars"},"transform":[{"filter":"datum.panel=='saccades' && datum.cond=='Well-learned set'"}],"mark":{"type":"rule","xOffset":33.5},"encoding":{"y":{"field":"lo","type":"quantitative"},"y2":{"field":"hi"}}},
      {"data":{"name":"bars"},"transform":[{"filter":"datum.panel=='saccades' && datum.cond=='Start of leraning session'"},{"fold":["lo","hi"],"as":["end","v"]}],"mark":{"type":"tick","orient":"horizontal","size":12,"xOffset":-33.5},"encoding":{"y":{"field":"v","type":"quantitative"}}},
      {"data":{"name":"bars"},"transform":[{"filter":"datum.panel=='saccades' && datum.cond=='End of learning session'"},{"fold":["lo","hi"],"as":["end","v"]}],"mark":{"type":"tick","orient":"horizontal","size":12,"xOffset":-6.5},"encoding":{"y":{"field":"v","type":"quantitative"}}},
      {"data":{"name":"bars"},"transform":[{"filter":"datum.panel=='saccades' && datum.cond=='Well-learned set'"},{"fold":["lo","hi"],"as":["end","v"]}],"mark":{"type":"tick","orient":"horizontal","size":12,"xOffset":33.5},"encoding":{"y":{"field":"v","type":"quantitative"}}},
      {"data":{"name":"cmps"},"transform":[{"filter":"datum.panel=='saccades' && datum.pair=='Start vs Well'"}],"mark":{"type":"tick","orient":"horizontal","size":69},"encoding":{"y":{"datum":6.08,"type":"quantitative"}}},
      {"data":{"name":"cmps"},"transform":[{"filter":"datum.panel=='saccades' && datum.pair=='End vs Well'"}],"mark":{"type":"tick","orient":"horizontal","size":42,"xOffset":13.5},"encoding":{"y":{"datum":4.62,"type":"quantitative"}}},
      {"data":{"name":"cmps"},"transform":[{"filter":"datum.panel=='saccades' && datum.pair=='Start vs Well'"}],"mark":{"type":"rule","xOffset":-33.5},"encoding":{"y":{"datum":6.08,"type":"quantitative"},"y2":{"datum":4.02}}},
      {"data":{"name":"cmps"},"transform":[{"filter":"datum.panel=='saccades' && datum.pair=='Start vs Well'"}],"mark":{"type":"rule","xOffset":33.5},"encoding":{"y":{"datum":6.08,"type":"quantitative"},"y2":{"datum":4.02}}},
      {"data":{"name":"cmps"},"transform":[{"filter":"datum.panel=='saccades' && datum.pair=='End vs Well'"}],"mark":{"type":"rule","xOffset":-6.5},"encoding":{"y":{"datum":4.62,"type":"quantitative"},"y2":{"datum":4.02}}},
      {"data":{"name":"cmps"},"transform":[{"filter":"datum.panel=='saccades' && datum.pair=='Start vs Well'"}],"mark":{"type":"tick","orient":"vertical","size":4,"yOffset":-2},"encoding":{"y":{"datum":6.08,"type":"quantitative"}}},
      {"data":{"name":"cmps"},"transform":[{"filter":"datum.panel=='saccades' && datum.pair=='End vs Well'"}],"mark":{"type":"tick","orient":"vertical","size":4,"yOffset":-2,"xOffset":13.5},"encoding":{"y":{"datum":4.62,"type":"quantitative"}}},
      {"data":{"name":"cmps"},"transform":[{"filter":"datum.panel=='saccades' && datum.pair=='Start vs Well'"}],"mark":{"type":"text","baseline":"middle","dy":-8.5},"encoding":{"y":{"datum":6.08,"type":"quantitative"},"text":{"field":"label"},"size":{"field":"label","type":"ordinal","scale":{"domain":["*","ns"],"range":[22,11]},"legend":null}}},
      {"data":{"name":"cmps"},"transform":[{"filter":"datum.panel=='saccades' && datum.pair=='End vs Well'"}],"mark":{"type":"text","baseline":"middle","dy":-8.5,"xOffset":13.5},"encoding":{"y":{"datum":4.62,"type":"quantitative"},"text":{"field":"label"},"size":{"field":"label","type":"ordinal","scale":{"domain":["*","ns"],"range":[22,11]},"legend":null}}},
      {"data":{"name":"cmps"},"transform":[{"filter":"datum.panel=='saccades' && datum.pair=='Start vs Well' && datum.boxed"}],"mark":{"type":"point","shape":"M-1,-0.55H1V0.55H-1Z","size":484,"filled":false,"stroke":"#e3312b","strokeWidth":1.5,"opacity":1,"yOffset":-8.5},"encoding":{"y":{"datum":6.08,"type":"quantitative"}}},
      {"data":{"name":"cmps"},"transform":[{"filter":"datum.panel=='saccades' && datum.pair=='End vs Well' && datum.boxed"}],"mark":{"type":"point","shape":"M-1,-0.55H1V0.55H-1Z","size":484,"filled":false,"stroke":"#e3312b","strokeWidth":1.5,"opacity":1,"yOffset":-8.5,"xOffset":13.5},"encoding":{"y":{"datum":4.62,"type":"quantitative"}}}
     ]},
    {"width":424,"height":52.3,"data":{"values":[]},"mark":"point",
     "title":{"text":"C","orient":"left","angle":0,"align":"left","baseline":"middle","anchor":"middle","frame":"group","offset":44,"dy":18,"fontSize":22}},
    {"width":197,"height":195.6,
     "title":{"text":"Day 1","anchor":"start","frame":"group","dx":16,"offset":-28,"baseline":"alphabetic","fontSize":19.5},
     "layer":[
      {"data":{"name":"ref"},"mark":{"type":"rule","color":"#8c8c8c","strokeWidth":1.5},
       "encoding":{"x":{"datum":0,"type":"quantitative","scale":{"domain":[0.4815,4.13],"nice":false,"zero":false},"axis":{"values":[1,2,3,4],"tickCount":20,"format":"d","labelOverlap":false,"domain":false,"title":"Block number","titleFontSize":13,"titleColor":"#333","titlePadding":1,"labelPadding":2,"labelFontSize":11,"titleX":93.5}},
        "x2":{"datum":4.27},
        "y":{"field":"roc","type":"quantitative","scale":{"domain":[-0.1,1.1],"nice":false,"zero":false},"axis":{"offset":26,"values":[0,0.2,0.4,0.6,0.8,1],"tickCount":20,"labelOverlap":false,"format":"~g","title":"ROC (50% versus 100% CS)","titleX":-29,"titleBaseline":"middle","labelPadding":5,"labelFontSize":11}}}},
      {"data":{"name":"ref"},"mark":{"type":"rule","color":"#333333","strokeWidth":1},
       "encoding":{"x":{"datum":0,"type":"quantitative"},"x2":{"datum":4.13},"y":{"datum":-0.1,"type":"quantitative"}}},
      {"data":{"name":"roc"},"mark":{"type":"rule","strokeWidth":3},
       "encoding":{"x":{"field":"block","type":"quantitative"},"y":{"field":"lo","type":"quantitative"},"y2":{"field":"hi"},
        "color":{"field":"type","type":"nominal","scale":{"domain":["Type 1 neurons","Type 2 neurons"],"range":["#e8221c","#1f1f1f"]}}}},
      {"data":{"name":"roc"},"mark":{"type":"line","strokeWidth":3},
       "encoding":{"x":{"field":"block","type":"quantitative"},"y":{"field":"roc","type":"quantitative"},
        "color":{"field":"type","type":"nominal","scale":{"domain":["Type 1 neurons","Type 2 neurons"],"range":["#e8221c","#1f1f1f"]},
         "legend":{"orient":"none","legendX":209.7,"legendY":27.5,"title":null,"symbolType":"stroke","symbolStrokeWidth":4.5,"symbolSize":625,"labelFontSize":13,"labelColor":"#222222","labelOffset":3,"rowPadding":4,"padding":0}}}},
      {"data":{"name":"ref"},"mark":{"type":"text","align":"left","baseline":"middle","dx":6,"fontSize":11,"color":"#555555"},
       "encoding":{"x":{"datum":4.27,"type":"quantitative"},"y":{"field":"roc","type":"quantitative"},"text":{"field":"label"}}}
     ]}
  ],
  "config": {
    "font": "Liberation Sans",
    "view": {"stroke": null},
    "axis": {"domainColor":"#333333","domainWidth":1,"labelColor":"#444444","labelFontSize":10.5,"titleFontSize":10,"titleFontWeight":"normal","titleColor":"#555555","ticks":false,"grid":false,"labelPadding":4,"titleLimit":400,"labelOverlap":false,"labelFlush":false},
    "legend": {"symbolStrokeWidth":4.5},
    "rule": {"color":"#1e1e1e","strokeWidth":2},
    "tick": {"color":"#1e1e1e","thickness":2},
    "bar": {"stroke":"#1e1e1e","strokeWidth":2},
    "text": {"color":"#222222"},
    "title": {"color":"#1a1a1a","fontWeight":"bold"}
  }
}
